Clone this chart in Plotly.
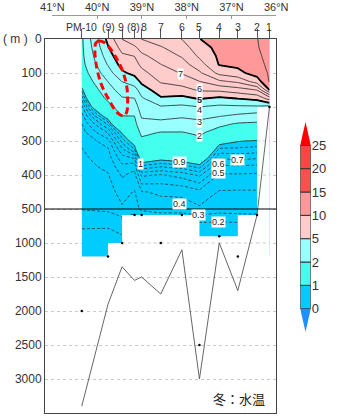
import plotly.graph_objects as go
import numpy as np

# ---------------- data ----------------
STATION_NAMES = ["PM-10", "(9)", "9", "(8)", "8", "7", "6", "5", "4", "3", "2", "1"]
STATION_LAT = [40.344, 39.757, 39.444, 39.166, 39.007, 38.579, 38.107, 37.715, 37.272, 36.858, 36.429, 36.151]

DEPTHS = [0, 25, 50, 75, 100, 125, 150, 175, 200, 225, 250, 275, 300, 325, 350, 375,
          400, 450, 500, 600, 700, 800, 900, 1000, 1200]

# temperature profiles (deg C) at DEPTHS, one list per station
TEMP_BY_STATION = [
    [1.85, 1.82, 1.78, 1.70, 1.50, 1.25, 0.92, 0.73, 0.57, 0.47, 0.40, 0.36, 0.32, 0.295, 0.28, 0.27, 0.26, 0.23, 0.205, 0.165, 0.13, 0.097, 0.085, 0.075, 0.06],
    [5.3, 4.92, 4.5, 4.08, 3.56, 3.02, 2.58, 2.17, 1.68, 1.15, 0.82, 0.61, 0.46, 0.387, 0.353, 0.32, 0.293, 0.257, 0.221, 0.17, 0.126, 0.095, 0.085, 0.075, 0.06],
    [7.02, 6.38, 5.82, 5.36, 4.83, 4.02, 3.44, 2.91, 2.46, 2.02, 1.52, 1.02, 0.833, 0.675, 0.56, 0.475, 0.412, 0.34, 0.285, 0.208, 0.164, 0.12, 0.095, 0.085, 0.07],
    [7.6, 6.83, 6.02, 5.63, 5.26, 4.5, 3.57, 2.98, 2.5, 2.02, 1.71, 1.42, 1.12, 0.89, 0.61, 0.43, 0.367, 0.292, 0.25, 0.183, 0.142, 0.102, 0.09, 0.08, 0.07],
    [8.02, 7.37, 6.78, 6.22, 5.7, 5.2, 4.5, 3.86, 3.5, 3.14, 2.7, 2.2, 1.8, 1.48, 1.16, 0.87, 0.62, 0.393, 0.327, 0.22, 0.165, 0.122, 0.09, 0.085, 0.07],
    [8.5, 7.91, 7.45, 6.98, 6.55, 6.09, 5.52, 4.87, 3.89, 3.33, 2.69, 1.96, 1.66, 1.36, 1.06, 0.81, 0.59, 0.414, 0.357, 0.256, 0.18, 0.14, 0.102, 0.09, 0.075],
    [9.02, 8.55, 8.09, 7.58, 7.06, 6.41, 5.64, 4.7, 3.78, 3.17, 2.54, 1.96, 1.67, 1.39, 1.11, 0.85, 0.64, 0.42, 0.357, 0.26, 0.184, 0.144, 0.102, 0.09, 0.075],
    [9.98, 9.58, 9.17, 8.57, 7.83, 6.98, 6.11, 5.08, 3.98, 3.31, 2.7, 2.15, 1.79, 1.5, 1.21, 0.94, 0.72, 0.468, 0.383, 0.29, 0.198, 0.167, 0.133, 0.102, 0.08],
    [10.4, 10.29, 10.17, 10.06, 9.29, 7.81, 6.2, 4.77, 3.78, 3.11, 2.22, 1.61, 1.1, 0.867, 0.71, 0.58, 0.485, 0.392, 0.35, 0.267, 0.194, 0.163, 0.131, 0.102, 0.08],
    [10.7, 10.6, 10.45, 10.2, 9.74, 8.21, 6.53, 5.02, 3.81, 2.86, 1.89, 1.45, 1.01, 0.872, 0.73, 0.587, 0.488, 0.389, 0.352, 0.275, 0.197, 0.164, 0.132, 0.102, 0.08],
    [10.98, 10.95, 10.85, 10.7, 10.4, 9.5, 7.02, 5.28, 3.83, 2.62, 1.83, 1.37, 0.978, 0.86, 0.71, 0.577, 0.481, 0.39, 0.355, 0.283, 0.198, 0.167, 0.133, 0.102, 0.08],
    [11.3, 11.28, 11.25, 11.2, 11.12, 11.06, 10.02, 6.43, 3.6, 2.5, 1.8, 1.35, 0.98, 0.86, 0.71, 0.58, 0.48, 0.39, 0.355, 0.283, 0.198, 0.167, 0.133, 0.102, 0.08],
]

BOTTOM_DEPTH = [3400, 1900, 1350, 1550, 1500, 1750, 1100, 3000, 1000, 1700, 590, 200]
SAMPLE_MAX_DEPTH = [2000, 1200, 1000, 590, 590, 1000, 590, 2500, 900, 1200, 590, 200]

LAT_TICKS = [41, 40, 39, 38, 37, 36]
DEPTH_TICKS = [0, 100, 200, 300, 400, 500, 1000, 1500, 2000, 2500, 3000, 3500]
GRID_DEPTHS = [100, 200, 300, 400, 1000, 1500, 2000, 2500, 3000]

CB_LEVELS = [0, 1, 2, 5, 10, 15, 20, 25]
CB_COLORS = ["#1e90ff", "#00ccff", "#44ffee", "#99ffff", "#ffcccc",
             "#ff9999", "#ff5050", "#ff4444", "#ff0000"]

CONTOUR_LABELS = ["7", "6", "5", "4", "3", "2", "1", "0.9", "0.7", "0.6", "0.5", "0.4", "0.3", "0.2"]
LABEL_LAT = [38.144, 37.715, 37.715, 37.715, 37.715, 37.715, 39.022, 38.165, 36.857, 37.285, 37.285, 38.165, 37.735, 37.285]
LABEL_DEPTH = [103, 146, 178, 210, 243, 284, 368, 362, 356, 369, 394, 485, 588, 690]

# small horizontal nudges (px) so the crowded station names do not collide
STATION_LABEL_SHIFT = [0, 0, -1, -1, 2, 0, 0, 0, 0, 0, 0, 0]

MARK_LAT = [40.03, 39.965, 39.858, 39.75, 39.60, 39.45, 39.34, 39.32, 39.34, 39.41, 39.54, 39.75, 39.92, 40.03, 40.05, 40.03]
MARK_DEPTH = [12, 6, 9, 21, 50, 88, 138, 191, 215, 226, 218, 176, 129, 68, 29, 12]

# ---------------- geometry / scale ----------------
BREAK = 500.0


def ty(d):
    """split depth scale: 0-500 m linear, below that compressed 5x"""
    return d if d <= BREAK else BREAK + (d - BREAK) / 5.0


W, H = 341, 419
ML, MR, MT, MB = 45, 0, 15, 6
PW, PH = W - ML - MR, H - MT - MB


def pxx(p):
    return (p - ML) / PW


def pxy(p):
    return (H - MB - p) / PH


XD = pxx(286)
YD = pxy(39)
PX_PER_DEG = (286 - 52.7) / 5.0
X_LEFT = 41 + (52.7 - 45) / PX_PER_DEG
FONT = "Liberation Sans, Arial, sans-serif"

ydep = [ty(d) for d in DEPTHS]
z = np.array(TEMP_BY_STATION).T

# step colorscale for fill contours (levels every 1 degree, band midpoints)
NC = 26


def sfrac(v):
    return (v + 0.5) / NC


cs = [[0.0, CB_COLORS[0]]]
for k, lev in enumerate(CB_LEVELS):
    cs.append([sfrac(lev), CB_COLORS[k]])
    cs.append([sfrac(lev), CB_COLORS[k + 1]])
cs.append([1.0, CB_COLORS[-1]])

fig = go.Figure()

fig.add_trace(go.Contour(
    x=STATION_LAT, y=ydep, z=z, colorscale=cs, autocontour=False,
    contours=dict(start=0, end=25, size=1, coloring="fill", showlines=False),
    line=dict(width=0, smoothing=0), showscale=False, hoverinfo="skip"))

fig.add_trace(go.Contour(
    x=STATION_LAT, y=ydep, z=z, autocontour=False,
    contours=dict(start=0.1, end=0.9, size=0.1, coloring="none"),
    line=dict(color="#333333", width=0.8, dash="3px,2px", smoothing=0),
    showscale=False, hoverinfo="skip"))

fig.add_trace(go.Contour(
    x=STATION_LAT, y=ydep, z=z, autocontour=False,
    contours=dict(start=1, end=14, size=1, coloring="none"),
    line=dict(color="#222222", width=0.8, smoothing=0),
    showscale=False, hoverinfo="skip"))

fig.add_trace(go.Contour(
    x=STATION_LAT, y=ydep, z=z, autocontour=False,
    contours=dict(start=5, end=10, size=5, coloring="none"),
    line=dict(color="#000000", width=1.8, smoothing=0),
    showscale=False, hoverinfo="skip"))

# mask below sampled depth between stations
mx, my, gx, gy = [], [], [], []
bottom_t = ty(DEPTHS[-1])
for i in range(len(STATION_LAT) - 1):
    top = min(SAMPLE_MAX_DEPTH[i], SAMPLE_MAX_DEPTH[i + 1])
    if top >= DEPTHS[-1]:
        continue
    x0, x1 = STATION_LAT[i], STATION_LAT[i + 1]
    y0, y1 = ty(top), bottom_t + 3
    mx += [x0, x1, x1, x0, x0, None]
    my += [y0, y0, y1, y1, y0, None]
    for g in GRID_DEPTHS:
        if top < g < DEPTHS[-1]:
            gx += [x0, x1, None]
            gy += [ty(g), ty(g), None]

fig.add_trace(go.Scatter(x=mx, y=my, mode="lines", fill="toself", fillcolor="white",
                         line=dict(width=0, color="white"), hoverinfo="skip"))
fig.add_trace(go.Scatter(x=gx, y=gy, mode="lines",
                         line=dict(width=1, color="#c8c8c8", dash="dot"), hoverinfo="skip"))

# red dashed marker loop
fig.add_trace(go.Scatter(x=MARK_LAT, y=[ty(d) for d in MARK_DEPTH], mode="lines",
                         line=dict(color="#ff0000", width=3, dash="7px,4px", shape="spline"),
                         hoverinfo="skip"))

# bottom topography and deepest samples
fig.add_trace(go.Scatter(x=STATION_LAT, y=[ty(d) for d in BOTTOM_DEPTH], mode="lines",
                         line=dict(color="#555555", width=0.9), hoverinfo="skip"))
fig.add_trace(go.Scatter(x=STATION_LAT, y=[ty(d) for d in SAMPLE_MAX_DEPTH], mode="markers",
                         marker=dict(color="black", size=2.5), hoverinfo="skip"))

# dummy traces to create the extra axes
fig.add_trace(go.Scatter(x=[41], y=[0.5], xaxis="x2", yaxis="y4", mode="markers",
                         marker=dict(opacity=0), hoverinfo="skip"))
fig.add_trace(go.Scatter(x=[0.5], y=[3], xaxis="x3", yaxis="y3", mode="markers",
                         marker=dict(opacity=0), hoverinfo="skip"))

shapes = []
# 500 m break line
shapes.append(dict(type="line", xref="x domain", yref="y", x0=0, x1=1, y0=ty(BREAK), y1=ty(BREAK),
                   line=dict(color="black", width=1), layer="above"))
# colorbar
for k in range(len(CB_LEVELS) - 1):
    shapes.append(dict(type="rect", xref="x3", yref="y3", x0=0, x1=1, y0=k, y1=k + 1,
                       fillcolor=CB_COLORS[k + 1], line=dict(color="#333333", width=1), layer="above"))
nl = len(CB_LEVELS) - 1
shapes.append(dict(type="path", xref="x3", yref="y3", path="M 0,0 L 1,0 L 0.5,-1 Z",
                   fillcolor=CB_COLORS[0], line=dict(width=0), layer="above"))
shapes.append(dict(type="path", xref="x3", yref="y3", path=f"M 0,{nl} L 1,{nl} L 0.5,{nl + 1} Z",
                   fillcolor=CB_COLORS[-1], line=dict(width=0), layer="above"))

annotations = []
for t, la, de in zip(CONTOUR_LABELS, LABEL_LAT, LABEL_DEPTH):
    annotations.append(dict(x=la, y=ty(de), xref="x", yref="y", text=(f"<b>{t}</b>" if t == "5" else t),
                            showarrow=False, bgcolor="white", borderpad=0,
                            font=dict(size=9, color="#222222", family=FONT)))
# station names above the station ticks
for name, la, sh in zip(STATION_NAMES, STATION_LAT, STATION_LABEL_SHIFT):
    annotations.append(dict(x=la, y=pxy(27), xref="x", yref="paper", text=name, xshift=sh,
                            showarrow=False, xanchor="center", yanchor="middle",
                            font=dict(size=10.5, color="#333333", family=FONT)))
annotations.append(dict(x=pxx(29), y=pxy(39), xref="paper", yref="paper", text="( m )",
                        xanchor="right", yanchor="middle", showarrow=False,
                        font=dict(size=12, color="#333333", family=FONT)))
annotations.append(dict(x=pxx(276), y=pxy(398), xref="paper", yref="paper", text="冬：水温",
                        xanchor="right", yanchor="middle", showarrow=False,
                        font=dict(size=13, color="#222222", family="Noto Sans CJK JP")))

fig.update_layout(
    width=W, height=H, margin=dict(l=ML, r=MR, t=MT, b=MB, pad=0),
    paper_bgcolor="white", plot_bgcolor="rgba(0,0,0,0)", showlegend=False,
    font=dict(family=FONT, size=12, color="#333333"),
    xaxis=dict(domain=[0, XD], range=[X_LEFT, 36.0], side="top", anchor="y",
               tickvals=STATION_LAT, showticklabels=False, ticks="outside", ticklen=9,
               tickcolor="#555555", showline=True, mirror=True, linecolor="#444444",
               showgrid=False, zeroline=False),
    yaxis=dict(domain=[0, YD], range=[ty(3500), 0], tickvals=[ty(d) for d in DEPTH_TICKS],
               ticktext=[str(d) for d in DEPTH_TICKS], showline=True, mirror=True,
               linecolor="#444444", showgrid=True, gridcolor="#c8c8c8", griddash="dot",
               gridwidth=1, zeroline=False, ticks="", tickfont=dict(size=12)),
    xaxis2=dict(domain=[pxx(52.7), XD], range=[41, 36], anchor="free", position=1, side="top",
                tickvals=LAT_TICKS, ticktext=[f"{v}°N" for v in LAT_TICKS], ticks="inside",
                ticklen=3, showline=True, linecolor="#999999", tickcolor="#999999",
                showgrid=False, zeroline=False, tickangle=0, tickfont=dict(size=11)),
    yaxis4=dict(domain=[0, YD], range=[0, 1], visible=False, anchor="x2"),
    xaxis3=dict(domain=[pxx(311), pxx(322)], range=[0, 1], visible=False, anchor="y3"),
    yaxis3=dict(domain=[pxy(332), pxy(122)], range=[-1, 8], anchor="x3", side="right",
                tickvals=list(range(len(CB_LEVELS))), ticktext=[str(v) for v in CB_LEVELS],
                showgrid=False, zeroline=False, showline=False, ticks="", tickfont=dict(size=13)),
    shapes=shapes, annotations=annotations,
)

fig.write_html("out.html")
